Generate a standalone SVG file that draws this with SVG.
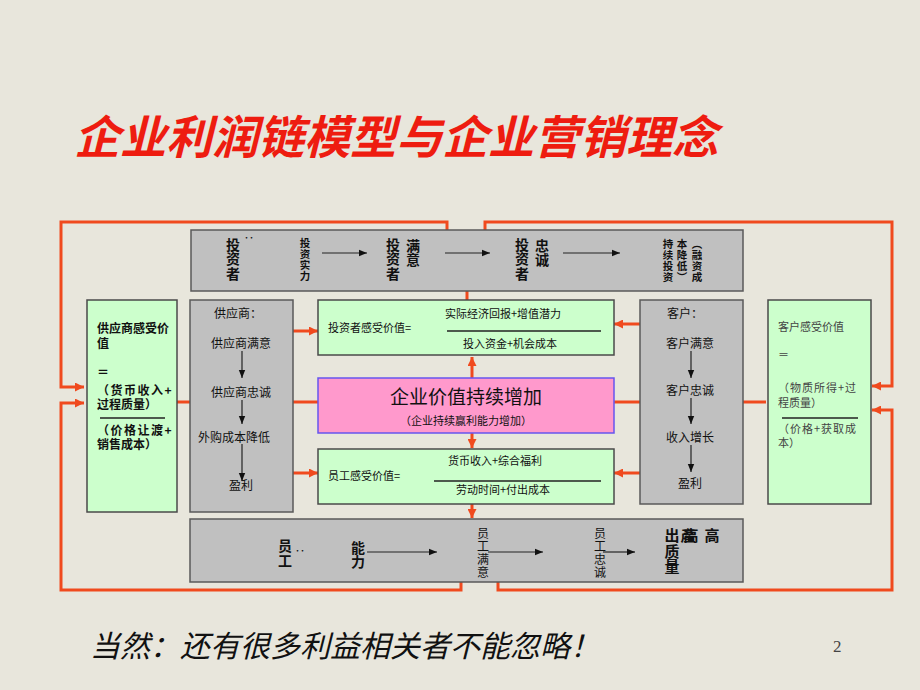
<svg xmlns="http://www.w3.org/2000/svg" width="920" height="690" viewBox="0 0 920 690">
<style>
.gray{fill:#C0C0C0;stroke:#5a5a5a;stroke-width:1.5}
.green{fill:#CCFFCC;stroke:#4a4a4a;stroke-width:1.5}
.pink{fill:#FF99CC;stroke:#6655EE;stroke-width:1.5}
.o{stroke:#F04A1E;stroke-width:3;fill:none}
.k{stroke:#222;stroke-width:1.2;fill:none}
.ln{stroke:#222;stroke-width:1.3}
text{font-family:"Noto Sans CJK SC","Noto Sans",sans-serif;fill:#111}
.c{text-anchor:middle}
.f14{font-size:14px;font-weight:bold}
.f10{font-size:10.5px}
.f11{font-size:11px}
.f12{font-size:12px}
.f15{font-size:15px;font-weight:bold}
.lg{font-size:11px;fill:#444}
</style>
<defs>
<marker id="oa" viewBox="0 0 10 10" refX="10" refY="5" markerWidth="9" markerHeight="9" markerUnits="userSpaceOnUse" orient="auto"><path d="M0,0 L10,5 L0,10 z" fill="#F04A1E"/></marker>
<marker id="ka" viewBox="0 0 10 10" refX="10" refY="5" markerWidth="8" markerHeight="8" markerUnits="userSpaceOnUse" orient="auto"><path d="M0,1 L10,5 L0,9 z" fill="#111"/></marker>
</defs>
<rect width="920" height="690" fill="#E8E6DC"/>
<text x="74" y="154" style="font-size:46px;font-style:italic;font-weight:bold;fill:#EE1C10">企业利润链模型与企业营销理念</text>

<g id="connectors">
<path class="o" d="M447,230 V222 H61 V387 H84" marker-end="url(#oa)"/>
<path class="o" d="M485,230 V222 H892 V386 H872" marker-end="url(#oa)"/>
<path class="o" d="M461,582 V590 H61 V403 H84" marker-end="url(#oa)"/>
<path class="o" d="M498,582 V590 H892 V410 H872" marker-end="url(#oa)"/>
<path class="o" d="M177,402 H202" marker-end="url(#oa)"/>
<path class="o" d="M766,402 H731" marker-end="url(#oa)"/>
<path class="o" d="M293,331 H318" marker-end="url(#oa)"/>
<path class="o" d="M293,402 H330" marker-end="url(#oa)"/>
<path class="o" d="M293,473 H318" marker-end="url(#oa)"/>
<path class="o" d="M640,324 H614" marker-end="url(#oa)"/>
<path class="o" d="M640,402 H603" marker-end="url(#oa)"/>
<path class="o" d="M640,473 H614" marker-end="url(#oa)"/>
<path class="o" d="M467,300 V279" marker-end="url(#oa)"/>
<path class="o" d="M472,378 V357" marker-end="url(#oa)"/>
<path class="o" d="M472,433 V448" marker-end="url(#oa)"/>
<path class="o" d="M472,504 V518" marker-end="url(#oa)"/>
</g>

<g id="investor-bar">
<rect class="gray" x="191" y="230" width="552" height="61"/>
<text class="f14 c"><tspan x="233" y="250">投</tspan><tspan x="233" y="264">资</tspan><tspan x="233" y="279">者</tspan></text>
<text x="249" y="242" style="font-size:10px;font-weight:bold" class="c">‥</text>
<text class="f10 c" style="font-weight:bold"><tspan x="305" y="247">投</tspan><tspan x="305" y="258">资</tspan><tspan x="305" y="269">实</tspan><tspan x="305" y="280">力</tspan></text>
<path class="k" d="M322,253 H367" marker-end="url(#ka)"/>
<text class="f14 c"><tspan x="393" y="250">投</tspan><tspan x="393" y="264">资</tspan><tspan x="393" y="279">者</tspan></text>
<text class="f14 c"><tspan x="413" y="251">满</tspan><tspan x="413" y="265">意</tspan></text>
<path class="k" d="M445,253 H490" marker-end="url(#ka)"/>
<text class="f14 c"><tspan x="522" y="250">投</tspan><tspan x="522" y="264">资</tspan><tspan x="522" y="279">者</tspan></text>
<text class="f14 c"><tspan x="542" y="251">忠</tspan><tspan x="542" y="265">诚</tspan></text>
<path class="k" d="M563,253 H620" marker-end="url(#ka)"/>
<text class="f10 c" style="font-weight:bold"><tspan x="668" y="248">持</tspan><tspan x="668" y="259">续</tspan><tspan x="668" y="270">投</tspan><tspan x="668" y="281">资</tspan></text>
<text class="f10 c" style="font-weight:bold"><tspan x="682" y="248">本</tspan><tspan x="682" y="259">降</tspan><tspan x="682" y="270">低</tspan><tspan x="682" y="281">︶</tspan></text>
<text class="f10 c" style="font-weight:bold"><tspan x="697" y="248">︵</tspan><tspan x="697" y="259">融</tspan><tspan x="697" y="270">资</tspan><tspan x="697" y="281">成</tspan></text>
</g>

<g id="supplier-value">
<rect class="green" x="87" y="300" width="90" height="212"/>
<text class="f12" style="font-weight:bold"><tspan x="97" y="333">供应商感受价</tspan><tspan x="97" y="348">值</tspan></text>
<text class="f12" x="97" y="377" style="font-weight:bold">＝</text>
<text class="f12" style="font-weight:bold"><tspan x="97" y="395" letter-spacing="1.5">（货币收入+</tspan><tspan x="97" y="409">过程质量）</tspan></text>
<line class="ln" x1="100" y1="418" x2="165" y2="418"/>
<text class="f12" style="font-weight:bold"><tspan x="97" y="435" letter-spacing="1.5">（价格让渡+</tspan><tspan x="97" y="449">销售成本）</tspan></text>
</g>

<g id="supplier">
<rect class="gray" x="190" y="300" width="103" height="212"/>
<text class="f12 c" x="238" y="318">供应商：</text>
<text class="f12 c" x="241" y="348">供应商满意</text>
<path class="k" d="M242,351 V378" marker-end="url(#ka)"/>
<text class="f12 c" x="241" y="397">供应商忠诚</text>
<path class="k" d="M242,400 V424" marker-end="url(#ka)"/>
<text class="f12 c" x="234" y="442">外购成本降低</text>
<path class="k" d="M242,444 V481" marker-end="url(#ka)"/>
<text class="f12 c" x="241" y="490">盈利</text>
</g>

<g id="investor-value">
<rect class="green" x="318" y="300" width="296" height="55"/>
<text class="f11" x="328" y="332">投资者感受价值=</text>
<text class="f11 c" x="503" y="318">实际经济回报+增值潜力</text>
<line class="ln" x1="447" y1="331" x2="601" y2="331"/>
<text class="f11 c" x="510" y="348">投入资金+机会成本</text>
</g>

<g id="enterprise-value">
<rect class="pink" x="318" y="378" width="296" height="55"/>
<text class="c" x="466" y="404" style="font-size:19px">企业价值持续增加</text>
<text class="f11 c" x="466" y="425">（企业持续赢利能力增加）</text>
</g>

<g id="employee-value">
<rect class="green" x="318" y="449" width="296" height="55"/>
<text class="f11" x="328" y="480">员工感受价值=</text>
<text class="f11 c" x="495" y="465">货币收入+综合福利</text>
<line class="ln" x1="434" y1="481" x2="601" y2="481"/>
<text class="f11 c" x="503" y="494">劳动时间+付出成本</text>
</g>

<g id="customer">
<rect class="gray" x="640" y="300" width="103" height="204"/>
<text class="f12 c" x="685" y="318">客户：</text>
<text class="f12 c" x="690" y="348">客户满意</text>
<path class="k" d="M691,351 V378" marker-end="url(#ka)"/>
<text class="f12 c" x="690" y="395">客户忠诚</text>
<path class="k" d="M691,398 V424" marker-end="url(#ka)"/>
<text class="f12 c" x="690" y="442">收入增长</text>
<path class="k" d="M691,445 V472" marker-end="url(#ka)"/>
<text class="f12 c" x="690" y="488">盈利</text>
</g>

<g id="customer-value">
<rect class="green" x="768" y="300" width="103" height="204"/>
<text class="lg" x="778" y="331">客户感受价值</text>
<text class="lg" x="778" y="359">＝</text>
<text class="lg"><tspan x="778" y="392" letter-spacing="1">（物质所得+过</tspan><tspan x="778" y="407">程质量）</tspan></text>
<line class="ln" x1="782" y1="418" x2="858" y2="418"/>
<text class="lg"><tspan x="778" y="433" letter-spacing="1">（价格+获取成</tspan><tspan x="778" y="447">本）</tspan></text>
</g>

<g id="employee-bar">
<rect class="gray" x="190" y="519" width="553" height="63"/>
<text class="f14 c"><tspan x="285" y="551">员</tspan><tspan x="285" y="566">工</tspan></text>
<text x="300" y="555" style="font-size:10px;font-weight:bold" class="c">‥</text>
<text class="f14 c"><tspan x="358" y="553">能</tspan><tspan x="358" y="567">力</tspan></text>
<path class="k" d="M367,552 H437" marker-end="url(#ka)"/>
<text class="f12 c"><tspan x="483" y="538">员</tspan><tspan x="483" y="551">工</tspan><tspan x="483" y="564">满</tspan><tspan x="483" y="577">意</tspan></text>
<path class="k" d="M488,552 H543" marker-end="url(#ka)"/>
<text class="f12 c"><tspan x="600" y="538">员</tspan><tspan x="600" y="551">工</tspan><tspan x="600" y="564">忠</tspan><tspan x="600" y="577">诚</tspan></text>
<path class="k" d="M603,552 H635" marker-end="url(#ka)"/>
<text class="f15 c"><tspan x="672" y="541">出</tspan><tspan x="672" y="557">质</tspan><tspan x="672" y="572">量</tspan></text>
<text class="f15 c" x="688" y="541">產</text>
<text class="f15 c" x="691" y="541">高</text>
<text class="f15 c" x="712" y="541">高</text>
</g>

<text x="90" y="657" style="font-size:30px;font-style:italic;fill:#111">当然：还有很多利益相关者不能忽略！</text>
<text x="833" y="652" style="font-family:'Liberation Serif',serif;font-size:17px;fill:#444">2</text>
</svg>
